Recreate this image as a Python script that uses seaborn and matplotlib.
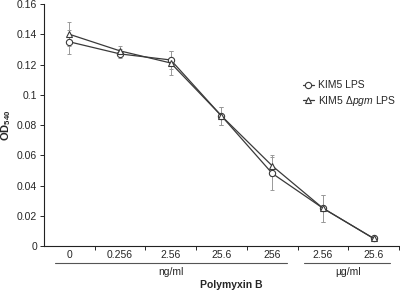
import seaborn as sns
import matplotlib.pyplot as plt
import numpy as np
import pandas as pd
from matplotlib.lines import Line2D

# Polymyxin B concentrations (tick labels)
doses = ['0', '0.256', '2.56', '25.6', '256', '2.56', '25.6']

# OD540 means and errors
kim5 = [0.135, 0.127, 0.123, 0.086, 0.048, 0.025, 0.005]
kim5_err = [0.008, 0.003, 0.006, 0.006, 0.011, 0.009, 0.001]
pgm = [0.140, 0.129, 0.121, 0.086, 0.053, 0.025, 0.005]
pgm_err = [0.008, 0.003, 0.008, 0.006, 0.007, 0.009, 0.001]

series = ['KIM5 LPS', 'KIM5 $\\Delta$$\\it{pgm}$ LPS']

pos = np.arange(len(doses))
df = pd.concat([
    pd.DataFrame({'pos': pos, 'od': kim5, 'err': kim5_err, 'strain': series[0]}),
    pd.DataFrame({'pos': pos, 'od': pgm, 'err': pgm_err, 'strain': series[1]}),
])

sns.set_style('ticks')
plt.rcParams['font.family'] = ['Liberation Sans', 'DejaVu Sans']
plt.rcParams['mathtext.fontset'] = 'custom'
plt.rcParams['mathtext.it'] = 'Liberation Sans:italic'
plt.rcParams['mathtext.rm'] = 'Liberation Sans'
plt.rcParams['mathtext.bf'] = 'Liberation Sans:bold'

fig = plt.figure(figsize=(4, 2.93), dpi=100)
ax = fig.add_axes([0.11, 0.1604, 0.8875, 0.8259])

line_col = '#3a3a3a'
# error bars first
for s in series:
    d = df[df['strain'] == s]
    ax.errorbar(d['pos'], d['od'], yerr=d['err'], fmt='none', ecolor='#999999',
                elinewidth=0.7, capsize=1.5, capthick=0.7, zorder=1)

sns.lineplot(data=df, x='pos', y='od', style='strain', markers={series[0]: 'o', series[1]: '^'},
             dashes=False, color=line_col, markersize=4.5, markerfacecolor='white',
             markeredgecolor=line_col, markeredgewidth=0.8, linewidth=0.9, ax=ax, legend=False,
             zorder=2)

ax.set_xlim(-0.5, len(doses) - 0.5)
ax.set_ylim(0, 0.16)
ax.set_yticks(np.arange(0, 0.161, 0.02))
ax.set_yticklabels(['%g' % v for v in np.round(np.arange(0, 0.161, 0.02), 2)], fontsize=7.5)
ax.set_xticks(pos)
ax.set_xticklabels(doses, fontsize=7.5)
ax.set_xticks(np.arange(len(doses)) + 0.5, minor=True)
ax.tick_params(axis='x', which='major', length=0, pad=3)
ax.tick_params(axis='x', which='minor', length=3, width=0.7, direction='out')
ax.tick_params(axis='y', length=3, width=0.7, pad=2)
sns.despine(ax=ax)
for sp in ['left', 'bottom']:
    ax.spines[sp].set_linewidth(0.8)
    ax.spines[sp].set_color('#222222')

ax.set_xlabel('')
ax.set_ylabel('$\\mathbf{OD_{540}}$', fontsize=8, labelpad=3)

# unit groupings below the axis
tr = ax.get_xaxis_transform()
ax.plot([-0.29, 4.29], [-0.072, -0.072], color='#555555', lw=0.8, transform=tr, clip_on=False)
ax.plot([4.63, 6.33], [-0.072, -0.072], color='#555555', lw=0.8, transform=tr, clip_on=False)
ax.text(2.0, -0.088, 'ng/ml', transform=tr, ha='center', va='top', fontsize=7.5)
ax.text(5.5, -0.088, '\u00b5g/ml', transform=tr, ha='center', va='top', fontsize=7.5)
ax.text(3.2, -0.14, 'Polymyxin B', transform=tr, ha='center', va='top', fontsize=7.5,
        fontweight='bold')

handles = [
    Line2D([], [], color=line_col, marker='o', markersize=4.5, markerfacecolor='white',
           markeredgecolor=line_col, markeredgewidth=0.8, lw=0.9),
    Line2D([], [], color=line_col, marker='^', markersize=4.5, markerfacecolor='white',
           markeredgecolor=line_col, markeredgewidth=0.8, lw=0.9),
]
ax.legend(handles, series, loc='upper left', bbox_to_anchor=(0.73, 0.685), frameon=False,
          fontsize=7.5, handlelength=1.0, handletextpad=0.4, labelspacing=0.35,
          borderpad=0, borderaxespad=0)

fig.savefig('out.png', dpi=100)
